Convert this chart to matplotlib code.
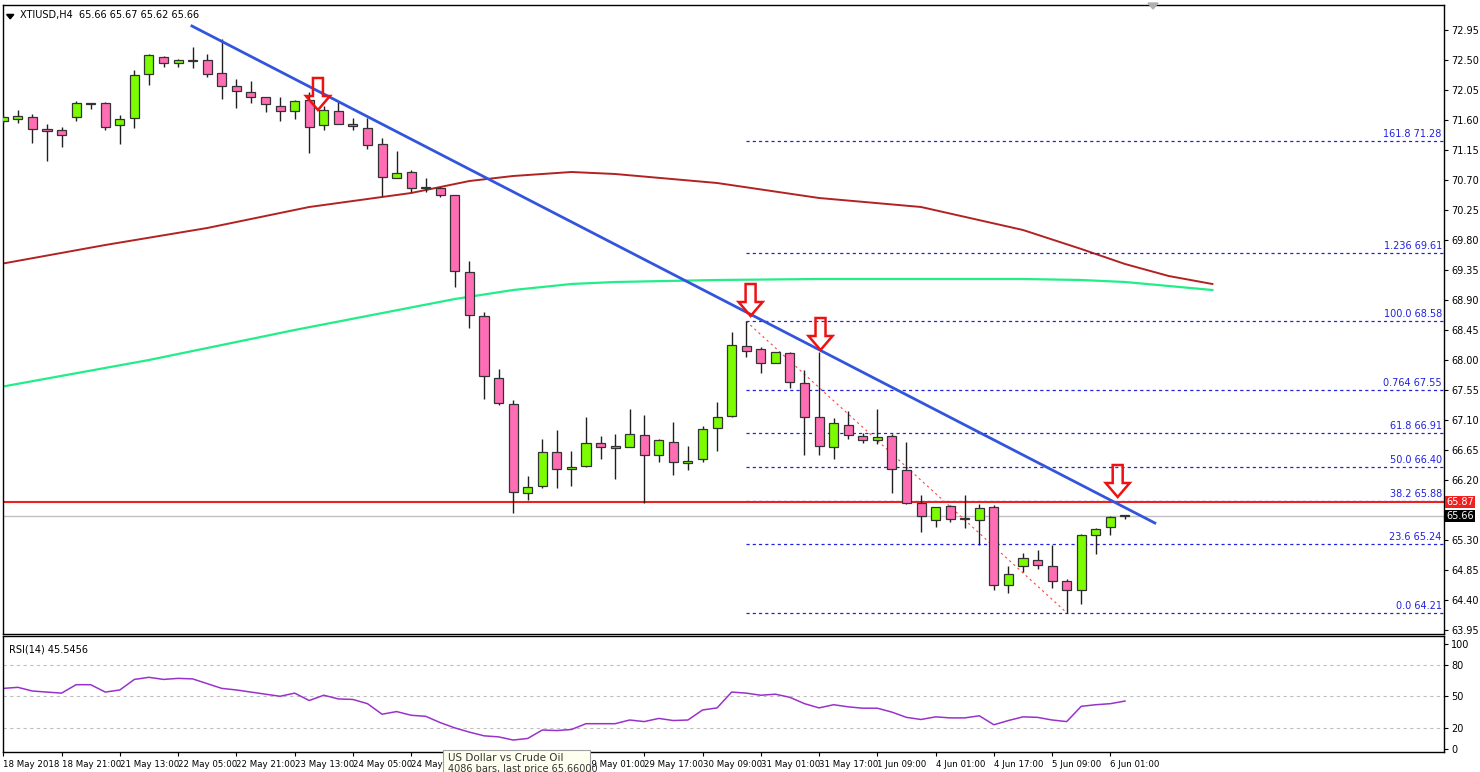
import matplotlib
matplotlib.use("Agg")
import matplotlib.pyplot as plt
import numpy as np
from matplotlib.patches import Polygon, Rectangle
from matplotlib.transforms import Affine2D

# ---------------- data ----------------
opens = [71.585,71.615,71.645,71.465,71.45,71.645,71.845,71.855,71.525,71.63,72.29,72.545,72.455,72.485,72.50,72.305,72.11,72.02,71.945,71.81,
         71.735,71.90,71.525,71.735,71.54,71.48,71.24,70.73,70.82,70.58,70.58,70.475,69.32,68.66,67.73,67.34,66.005,66.11,66.62,66.365,
         66.41,66.755,66.71,66.695,66.875,66.575,66.77,66.455,66.515,66.98,67.16,68.21,68.165,67.955,68.105,67.655,67.145,66.695,67.025,66.86,
         66.80,66.86,66.35,65.855,65.60,65.81,65.615,65.60,65.795,64.625,64.91,65.00,64.91,64.685,64.55,65.375,65.495,65.66]
highs = [71.675,71.75,71.69,71.54,71.495,71.885,71.845,71.87,71.675,72.35,72.59,72.56,72.515,72.695,72.59,72.815,72.215,72.185,71.945,71.945,
         71.90,72.02,71.81,71.87,71.63,71.63,71.33,71.135,70.85,70.73,70.595,70.475,69.485,68.72,67.865,67.40,66.26,66.815,66.95,66.635,
         67.145,66.86,66.89,67.265,67.175,66.815,67.07,66.71,67.01,67.37,68.42,68.58,68.195,68.12,68.12,67.85,68.12,67.13,67.235,66.905,
         67.265,66.89,66.77,65.975,65.795,65.825,65.975,65.84,65.825,64.91,65.105,65.15,65.225,64.715,65.39,65.48,65.66,65.67]
lows = [71.555,71.555,71.255,70.985,71.195,71.585,71.765,71.45,71.24,71.48,72.125,72.395,72.395,72.38,72.245,71.915,71.78,71.855,71.72,71.585,
        71.615,71.105,71.45,71.54,71.45,71.165,70.46,70.73,70.52,70.52,70.445,69.095,68.48,67.415,67.325,65.705,65.90,66.08,66.08,66.11,
        66.395,66.515,66.215,66.695,65.855,66.47,66.275,66.35,66.47,66.635,67.145,68.045,67.805,67.955,67.58,66.575,66.575,66.515,66.815,66.755,
        66.74,66.005,65.84,65.42,65.495,65.57,65.48,65.225,64.55,64.505,64.82,64.865,64.58,64.21,64.34,65.09,65.375,65.62]
closes = [71.645,71.66,71.465,71.435,71.375,71.855,71.84,71.495,71.615,72.275,72.575,72.455,72.50,72.485,72.29,72.11,72.035,71.945,71.84,71.735,
          71.885,71.495,71.75,71.54,71.51,71.225,70.745,70.805,70.58,70.58,70.475,69.335,68.675,67.76,67.355,66.02,66.095,66.62,66.365,66.395,
          66.755,66.695,66.68,66.89,66.575,66.80,66.47,66.485,66.965,67.145,68.225,68.135,67.955,68.12,67.67,67.145,66.71,67.055,66.875,66.80,
          66.845,66.365,65.855,65.66,65.795,65.615,65.615,65.78,64.625,64.79,65.03,64.925,64.685,64.55,65.375,65.465,65.645,65.66]

ma_red_x = [-0.2,7,14,21,28,32,35,39,42,49,56,63,70,74,77,80,83]
ma_red_y = [69.44,69.725,69.98,70.295,70.505,70.685,70.76,70.82,70.79,70.655,70.43,70.295,69.95,69.665,69.44,69.26,69.14]
ma_grn_x = [-0.2,10,20,31,35,39,42,49,56,63,70,74,77,80,83]
ma_grn_y = [67.595,68.0,68.45,68.915,69.05,69.14,69.17,69.20,69.215,69.215,69.215,69.20,69.17,69.11,69.05]

rsi = [57.5,58.5,55,54,53,61,61,54,56,66,68,66,67,66.5,62,57.5,56,54,52,50,53,46,51,47.5,47,43,33,35.5,32,31,
       25,20,16,12.5,11.5,8.5,10,18,17.5,18.5,24,24,24,27.5,26,29,27,27.5,37,39,54,53,51,52,49,43,39,42,40,38.7,
       38.7,35,30,28,30.5,29.5,29.5,31.5,23,27,30.5,30,27.5,26,40.5,42,43,45.5]

fib_ratio = ["0.0","23.6","38.2","50.0","61.8","0.764","100.0","1.236","161.8"]
fib_price = [64.21,65.24,65.88,66.40,66.91,67.55,68.58,69.61,71.28]

yticks = [72.95,72.50,72.05,71.60,71.15,70.70,70.25,69.80,69.35,68.90,68.45,68.00,67.55,67.10,66.65,66.20,65.30,64.85,64.40,63.95]
xtick_idx = [0,4,8,12,16,20,24,28,40,44,48,52,56,60,64,68,72,76]
xtick_lbl = ["18 May 2018","18 May 21:00","21 May 13:00","22 May 05:00","22 May 21:00","23 May 13:00","24 May 05:00","24 May 21:00",
             "29 May 01:00","29 May 17:00","30 May 09:00","31 May 01:00","31 May 17:00","1 Jun 09:00",
             "4 Jun 01:00","4 Jun 17:00","5 Jun 09:00","6 Jun 01:00"]

trend_x = [12.95, 79.05]
trend_y = [73.01, 65.555]
arrow_x = [21.6, 51.3, 56.1, 76.5]
arrow_tip = [71.75, 68.66, 68.15, 65.945]

# ---------------- figure ----------------
W, H = 1480, 772
fig = plt.figure(figsize=(W/100, H/100), dpi=100)
fig.patch.set_facecolor("white")
def fr(x0, y0, x1, y1):
    return [x0/W, 1-y1/H, (x1-x0)/W, (y1-y0)/H]

ax = fig.add_axes(fr(3, 5, 1444, 634))
axr = fig.add_axes(fr(3, 636, 1444, 752))
XL = (-0.02, 98.9)
for a in (ax, axr):
    a.set_xlim(*XL)
    for s in a.spines.values():
        s.set_color("black"); s.set_linewidth(1)
ax.set_ylim(63.89, 73.325)
axr.set_ylim(-2.85, 107.2)

n = len(opens)
idx = np.arange(n)
o = np.array(opens); c = np.array(closes); h = np.array(highs); l = np.array(lows)
bull = c >= o
ax.vlines(idx, l, h, color="#202020", lw=1, zorder=3)
bot = np.minimum(o, c); ht = np.maximum(np.abs(c - o), 0.012)
ax.bar(idx[bull], ht[bull], bottom=bot[bull], width=0.62, color="#7CFC00", edgecolor="#333333", lw=0.9, zorder=4)
ax.bar(idx[~bull], ht[~bull], bottom=bot[~bull], width=0.62, color="#FF6EB4", edgecolor="#333333", lw=0.9, zorder=4)

ax.plot(ma_red_x, ma_red_y, color="#B22222", lw=1.4, zorder=2)
ax.plot(ma_grn_x, ma_grn_y, color="#22EE88", lw=1.6, zorder=2)

# fib
for r, p in zip(fib_ratio, fib_price):
    ax.hlines(p, 51, XL[1], colors="#2020E0", linestyles=(0, (2.5, 2.5)), lw=0.9, zorder=2)
    ax.text(98.75, p + 0.03, f"{r} {p:.2f}", color="#2020E0", fontsize=7, ha="right", va="bottom", zorder=5)
ax.plot([51, 73], [68.58, 64.21], color="#FF4040", ls=(0, (2, 3)), lw=0.8, zorder=2)

ax.axhline(65.87, color="#EE2020", lw=1.5, zorder=2)
ax.axhline(65.66, color="#C0C0C0", lw=1, zorder=1)
ax.plot(trend_x, trend_y, color="#3355DD", lw=2, zorder=5)

# y ticks on right
ax.yaxis.tick_right()
ax.set_yticks(yticks)
ax.set_yticklabels([f"{v:.2f}" for v in yticks], fontsize=7)
ax.tick_params(axis="y", length=3, pad=2)
ax.set_xticks([])
axr.yaxis.tick_right()
axr.set_yticks([0, 20, 50, 80, 100])
axr.set_yticklabels(["0", "20", "50", "80", "100"], fontsize=7)
axr.tick_params(axis="y", length=3, pad=2)
for lv in (20, 50, 80):
    axr.axhline(lv, color="#C0C0C0", ls=(0, (3, 3)), lw=0.8)
axr.plot(idx, rsi, color="#9932CC", lw=1.1)
axr.set_xticks(xtick_idx)
axr.set_xticklabels(xtick_lbl, fontsize=6.2, ha="left")
axr.tick_params(axis="x", length=3, pad=3)

# price tags
fig.text(1446/W, 1-502/H, "65.87", fontsize=7, color="white", va="center", ha="left",
         bbox=dict(boxstyle="square,pad=0.15", fc="#EE2020", ec="none"))
fig.text(1446/W, 1-516/H, "65.66", fontsize=7, color="white", va="center", ha="left",
         bbox=dict(boxstyle="square,pad=0.15", fc="black", ec="none"))

# labels
ax.text(0.012, 0.992, "XTIUSD,H4  65.66 65.67 65.62 65.66", transform=ax.transAxes, fontsize=7, va="top", ha="left")
ax.add_patch(Polygon([[0.0025, 0.985], [0.0075, 0.985], [0.005, 0.978]], closed=True, transform=ax.transAxes, color="black"))
axr.text(0.004, 0.93, "RSI(14) 45.5456", transform=axr.transAxes, fontsize=7, va="top", ha="left")

# arrows (hollow red down arrows)
fig.canvas.draw()
shape = [(0, 0), (-12, 14), (-5, 14), (-5, 32), (5, 32), (5, 14), (12, 14)]
for ax_x, tip in zip(arrow_x, arrow_tip):
    tx, ty = ax.transData.transform((ax_x, tip))
    poly = Polygon(shape, closed=True, fill=False, ec="#EE1111", lw=1.8,
                   transform=Affine2D().translate(tx, ty), zorder=6)
    fig.add_artist(poly)

# tooltip + decoration
fig.add_artist(Rectangle((443/W, 0), (590-443)/W, (772-750)/H, transform=fig.transFigure,
                         fc="#FFFFF0", ec="#A0A0A0", lw=0.8, zorder=10))
fig.text(448/W, 1-758/H, "US Dollar vs Crude Oil", fontsize=7.5, va="center", ha="left", zorder=11, color="#333333")
fig.text(448/W, 1-769/H, "4086 bars, last price 65.66000", fontsize=7, va="center", ha="left", zorder=11, color="#333333")
fig.add_artist(Polygon([[1148/W, 1-3/H], [1158/W, 1-3/H], [1153/W, 1-9/H]], closed=True, transform=fig.transFigure, color="#B0B0B0"))

fig.savefig("out.png", dpi=100)
